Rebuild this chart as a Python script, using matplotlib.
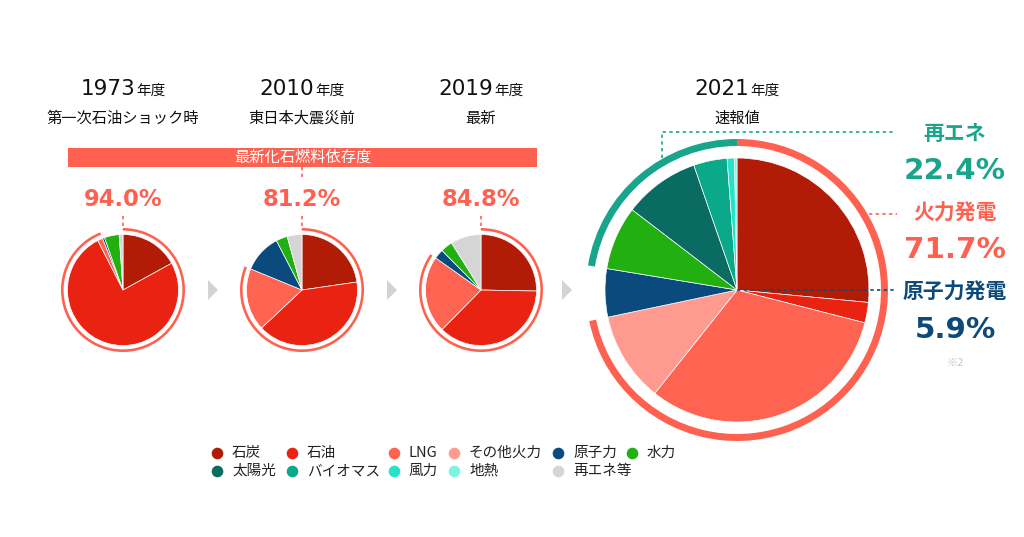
import matplotlib
matplotlib.use("Agg")
import matplotlib.pyplot as plt
from matplotlib.patches import Wedge, Polygon, Rectangle
from matplotlib.offsetbox import TextArea, HPacker, AnnotationBbox

JP = ['Noto Sans CJK JP', 'DejaVu Sans']
NUM = ['DejaVu Sans', 'Noto Sans CJK JP']

# --- data ---
categories = ['石炭', '石油', 'LNG', 'その他火力', '原子力', '水力',
              '太陽光', 'バイオマス', '風力', '地熱', '再エネ等']
cat_colors = ['#b21b06', '#ea2211', '#ff6452', '#ff9a90', '#0b4a7c', '#22b011',
              '#0a6b62', '#0aa98a', '#25e3c8', '#7ef3e3', '#d5d5d5']
fossil_cats = ['石炭', '石油', 'LNG', 'その他火力']
nuclear_cats = ['原子力']

small_years = ['1973', '2010', '2019']
small_notes = ['第一次石油ショック時', '東日本大震災前', '最新']
small_cats = ['石炭', '石油', 'LNG', '原子力', '水力', '再エネ等']
share_1973 = [17.0, 75.5, 1.5, 0.6, 4.3, 1.1]
share_2010 = [22.7, 40.3, 18.2, 11.2, 3.3, 4.3]
share_2019 = [25.3, 37.1, 22.4, 2.8, 3.5, 8.9]
small_shares = [share_1973, share_2010, share_2019]

big_year = '2021'
big_note = '速報値'
big_cats = ['石炭', '石油', 'LNG', 'その他火力', '原子力', '水力',
            '太陽光', 'バイオマス', '風力', '地熱']
share_2021 = [26.5, 2.5, 31.7, 11.0, 5.9, 7.8, 9.3, 4.1, 0.9, 0.3]

banner_label = '最新化石燃料依存度'
group_labels = ['再エネ', '火力発電', '原子力発電']
footnote = '※2'

# legend grid, None = empty cell (再エネ等 sits under 原子力)
legend_rows = [['石炭', '石油', 'LNG', 'その他火力', '原子力', '水力'],
               ['太陽光', 'バイオマス', '風力', '地熱', '再エネ等', None]]

# --- styling / layout (pixel units, y down) ---
CORAL = '#ff6150'
TEAL = '#19a58c'
NAVY = '#0b4a7a'
color_of = dict(zip(categories, cat_colors))

small_cx = [123, 302, 481]
pie_cy = 290
small_r = 55.5
big_cx, big_r = 737, 132
arrow_x = [213, 392, 567]
leg_col_x = [217, 292, 394, 454, 558, 632]
leg_row_y = [453, 471]

fig = plt.figure(figsize=(10.24, 5.37), dpi=100)
ax = fig.add_axes([0, 0, 1, 1])
ax.set_autoscale_on(False)


def title(x, year, note):
    box = HPacker(children=[
        TextArea(year, textprops=dict(fontsize=15.5, family=NUM, color='#111111')),
        TextArea('年度', textprops=dict(fontsize=10.5, family=JP, color='#111111')),
    ], align='baseline', pad=0, sep=1)
    ax.add_artist(AnnotationBbox(box, (x, 89), frameon=False, box_alignment=(0.5, 0.5)))
    ax.text(x, 118, note, ha='center', va='center', fontsize=11, family=JP, color='#111111')


def ring(cx, r_out, width, start, frac, color):
    # start/frac as fractions of the full turn, measured clockwise from 12 o'clock
    ax.add_patch(Wedge((cx, pie_cy), r_out, -90 + 360 * start, -90 + 360 * (start + frac),
                       width=width, facecolor=color, lw=0))


def dotted(xs, ys, color):
    ax.plot(xs, ys, color=color, lw=1.2, ls=(0, (2, 2)), zorder=5)


# banner
ax.add_patch(Rectangle((68, 148), 469, 19, facecolor=CORAL, lw=0))
ax.text(302.5, 157.5, banner_label, ha='center', va='center', fontsize=11,
        family=JP, color='white')
dotted([302, 302], [167, 180], CORAL)

# small pies
for cx, yr, note, vals in zip(small_cx, small_years, small_notes, small_shares):
    title(cx, yr, note)
    ax.pie(vals, colors=[color_of[c] for c in small_cats], center=(cx, pie_cy),
           radius=small_r, startangle=-90, counterclock=True, frame=True,
           wedgeprops=dict(edgecolor='white', linewidth=0.5))
    fossil = sum(v for c, v in zip(small_cats, vals) if c in fossil_cats) / sum(vals)
    ring(cx, 62, 2.6, 0, fossil, CORAL)
    ax.text(cx, 199, f'{fossil * 100:.1f}%', ha='center', va='center', fontsize=16.3,
            family=NUM, weight='bold', color=CORAL)
    dotted([cx, cx], [216, 230], CORAL)

# arrows
for x in arrow_x:
    ax.add_patch(Polygon([(x - 5, pie_cy - 10), (x + 5, pie_cy), (x - 5, pie_cy + 10)],
                         closed=True, facecolor='#d3d3d3', lw=0))

# big pie
title(big_cx, big_year, big_note)
ax.pie(share_2021, colors=[color_of[c] for c in big_cats], center=(big_cx, pie_cy),
       radius=big_r, startangle=-90, counterclock=True, frame=True,
       wedgeprops=dict(edgecolor='white', linewidth=0.5))
tot = sum(share_2021)
f_fossil = sum(v for c, v in zip(big_cats, share_2021) if c in fossil_cats) / tot
f_nuc = sum(v for c, v in zip(big_cats, share_2021) if c in nuclear_cats) / tot
f_ren = 1 - f_fossil - f_nuc
ring(big_cx, 151, 7, 0, f_fossil, CORAL)
ring(big_cx, 151, 7, f_fossil + f_nuc, f_ren, TEAL)

dotted([662, 662, 896], [158, 132, 132], TEAL)
dotted([869, 897], [214, 214], CORAL)
dotted([big_cx, 897], [pie_cy, pie_cy], NAVY)

rx = 955
for lab, frac, col, ylab, yval in zip(group_labels, [f_ren, f_fossil, f_nuc],
                                      [TEAL, CORAL, NAVY], [133, 213, 292], [171, 250, 330]):
    ax.text(rx, ylab, lab, ha='center', va='center', fontsize=15, family=JP,
            weight='bold', color=col)
    ax.text(rx, yval, f'{frac * 100:.1f}%', ha='center', va='center', fontsize=21.2,
            family=NUM, weight='bold', color=col)
ax.text(rx, 363, footnote, ha='center', va='center', fontsize=8, family=JP, color='#c4c4c4')

# legend
for row, cats in enumerate(legend_rows):
    for col, cat in enumerate(cats):
        if cat is None:
            continue
        x, y = leg_col_x[col], leg_row_y[row]
        ax.scatter([x], [y], s=70, color=color_of[cat], lw=0, zorder=5)
        ax.text(x + 15, y, cat, ha='left', va='center', fontsize=10.5, family=JP,
                color='#222222')

ax.set_aspect('equal')
ax.set_xlim(0, 1024)
ax.set_ylim(537, 0)
ax.axis('off')
fig.savefig('out.png', dpi=100, facecolor='white')
